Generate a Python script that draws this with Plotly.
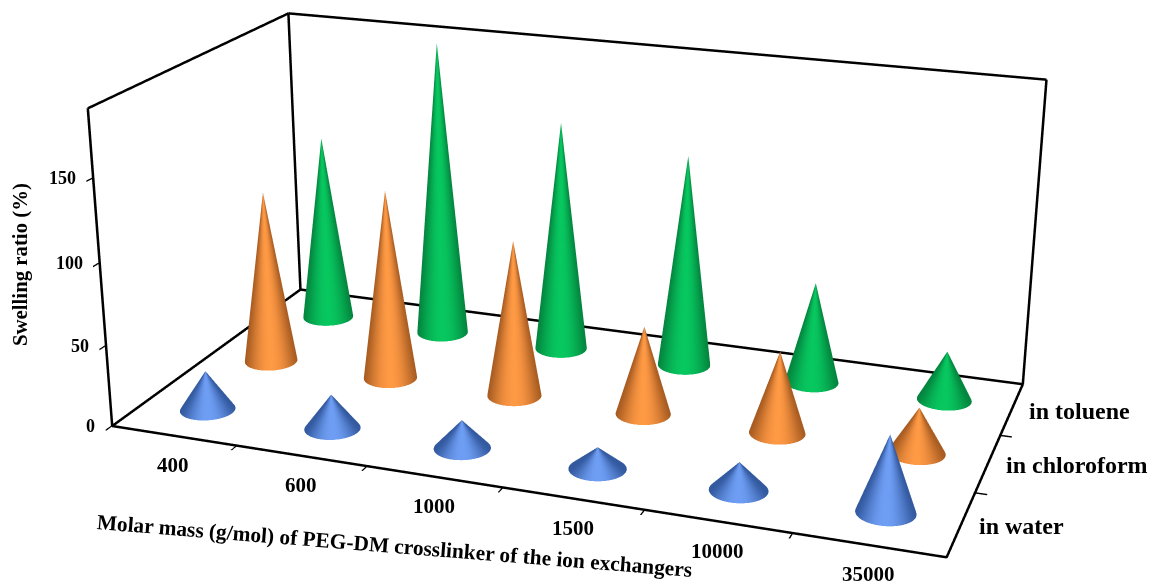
import numpy as np
import plotly.graph_objects as go

# Swelling ratio (%) of the ion exchangers, by crosslinker molar mass and solvent
molar_masses = ["400", "600", "1000", "1500", "10000", "35000"]
solvents = ["in water", "in chloroform", "in toluene"]
in_water = [24.4, 21.2, 17.3, 13.1, 16.8, 45.4]
in_chloroform = [109.5, 119.5, 97.7, 54.8, 50.4, 27.8]
in_toluene = [121.1, 189.9, 147.2, 134.6, 63.9, 30.9]
z_ticks = [0, 50, 100, 150]
z_top = 190

edge_colors = ["#33599f", "#a85c22", "#04853f"]
glow_colors = ["#6f9ff5", "#ff9a45", "#08c860"]

CONE_RADIUS = 0.2
SEGMENTS = 72
FONT = "Liberation Serif"

ASPECT = dict(x=1.8128, y=0.9106, z=0.7090)
EYE = dict(x=1.5122, y=-4.2459, z=1.5731)


def hex_rgb(h):
    return np.array([int(h[i:i + 2], 16) for i in (1, 3, 5)], float)


def cone(ix, iy, height, dark, light):
    """Triangulated cone side, with separate apex vertices so each facet keeps its tone."""
    phi = np.linspace(0, 2 * np.pi, SEGMENTS + 1)
    xs, ys, zs, cols, i, j, k = [], [], [], [], [], [], []
    # bright stripe faces the viewer from where this cone stands
    facing = np.arctan2(EYE["y"] - (iy - 1) * ASPECT["y"] / 3, EYE["x"] - (ix - 2.5) * ASPECT["x"] / 6)

    def tone(a):
        b = max(0.0, np.cos(a - facing)) ** 2.5
        c = dark + (light - dark) * b
        return "rgb(%d,%d,%d)" % tuple(c)

    for s in range(SEGMENTS):
        n = len(xs)
        a, b = phi[s], phi[s + 1]
        xs += [ix + CONE_RADIUS * np.cos(a), ix + CONE_RADIUS * np.cos(b), ix]
        ys += [iy + CONE_RADIUS * np.sin(a), iy + CONE_RADIUS * np.sin(b), iy]
        zs += [0, 0, height]
        cols += [tone(a), tone(b), tone((a + b) / 2)]
        i.append(n), j.append(n + 1), k.append(n + 2)
    return go.Mesh3d(
        x=xs, y=ys, z=zs, i=i, j=j, k=k, vertexcolor=cols, hoverinfo="skip",
        flatshading=False, showscale=False,
        lighting=dict(ambient=1.0, diffuse=0.0, specular=0.0, fresnel=0.0, roughness=1.0),
    )


fig = go.Figure()
for iy, series in reversed(list(enumerate([in_water, in_chloroform, in_toluene]))):
    dark, light = hex_rgb(edge_colors[iy]), hex_rgb(glow_colors[iy])
    for ix, value in enumerate(series):
        fig.add_trace(cone(ix, iy, value, dark, light))

# Edges of the floor and the two rear walls; held a hair inside the ranges so they are not clipped
x0, x1, y0, y1 = -0.5, 5.5, -0.5, 2.5
lx0, lx1, ly0, ly1, lz0, lz1 = x0 + 0.004, x1 - 0.004, y0 + 0.004, y1 - 0.004, 0.03, z_top - 0.03
corners = [
    ((lx1, ly1, lz0), (lx0, ly1, lz0)), ((lx0, ly1, lz0), (lx0, ly0, lz0)),
    ((lx0, ly0, lz1), (lx0, ly1, lz1)), ((lx0, ly1, lz1), (lx0, ly1, lz0)),
    ((lx0, ly1, lz1), (lx1, ly1, lz1)), ((lx1, ly1, lz1), (lx1, ly1, lz0)),
    ((lx0, ly0, lz0), (lx0, ly0, lz1)), ((lx0, ly0, lz0), (lx1, ly0, lz0)), ((lx1, ly0, lz0), (lx1, ly1, lz0)),
]
for a, b in corners:
    fig.add_trace(go.Scatter3d(x=[a[0], b[0]], y=[a[1], b[1]], z=[a[2], b[2]], mode="lines", hoverinfo="skip",
                               line=dict(color="black", width=5), showlegend=False))


def axis(rng, vals):
    return dict(range=rng, autorange=False, tickvals=vals, ticktext=[""] * len(vals), ticks="outside",
                ticklen=9, tickwidth=3, tickcolor="black", showgrid=False, zeroline=False, showline=True,
                linecolor="black", linewidth=2, showbackground=False, title=dict(text=""),
                showticklabels=False, showspikes=False)


notes = []
for ix, label in enumerate(molar_masses):
    notes.append(dict(x=ix, y=y0, z=0, text=label, showarrow=False, xshift=0, yshift=-29,
                      font=dict(family=FONT, size=21, color="black", weight="bold")))
for iy, label in enumerate(solvents):
    notes.append(dict(x=x1, y=iy, z=0, text=label, showarrow=False, xanchor="left", xshift=15, yshift=-2,
                      font=dict(family=FONT, size=24, color="black", weight="bold")))
for tick in z_ticks:
    notes.append(dict(x=x0, y=y0, z=tick, text=str(tick), showarrow=False, xanchor="right", xshift=-14,
                      font=dict(family=FONT, size=18, color="black", weight="bold")))
notes.append(dict(x=2.5, y=y0, z=0, text="Molar mass (g/mol) of PEG-DM crosslinker of the ion exchangers",
                  showarrow=False, xshift=-108, yshift=-58, textangle=4.6,
                  font=dict(family=FONT, size=21.4, color="black", weight="bold")))
notes.append(dict(x=x0, y=y0, z=95, text="Swelling ratio (%)", showarrow=False, xshift=-79, yshift=7,
                  textangle=-90, font=dict(family=FONT, size=20.8, color="black", weight="bold")))

# The view needs a long lens, so the scene is laid out taller than the page and centred on it
SCENE_HEIGHT = 1836
fig.update_layout(
    width=1149, height=SCENE_HEIGHT, autosize=False, showlegend=False,
    margin=dict(l=0, r=0, t=0, b=0, pad=0), paper_bgcolor="white",
    scene=dict(
        domain=dict(x=[0, 1], y=[0, 1]),
        xaxis=axis([x0, x1], [0.5, 1.5, 2.5, 3.5, 4.5]),
        yaxis=axis([y0, y1], [0.5, 1.5]),
        zaxis=axis([0, z_top], z_ticks),
        aspectmode="manual",
        aspectratio=ASPECT,
        camera=dict(
            eye=EYE,
            center=dict(x=0.0012, y=-0.0288, z=-0.0768),
            up=dict(x=-0.1184, y=0.3247, z=0.9384),
            projection=dict(type="perspective"),
        ),
        annotations=notes,
    ),
)

offset = (SCENE_HEIGHT - 582) // 2
fig.write_html(
    "out.html",
    config=dict(displayModeBar=False),
    post_script=(
        "var d=document.getElementById('{plot_id}');"
        "d.style.position='absolute';d.style.left='0';d.style.top='-%dpx';"
        "document.documentElement.style.overflow='hidden';document.body.style.overflow='hidden';" % offset
    ),
)
